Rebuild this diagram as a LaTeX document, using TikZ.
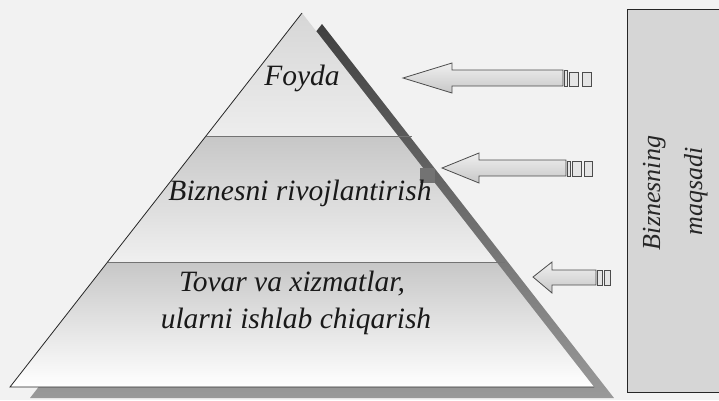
\documentclass[tikz,border=0pt]{standalone}
\usepackage{fontspec}
\setmainfont{Liberation Serif}
\begin{document}
\begin{tikzpicture}[x=1pt,y=-1pt,
  lbl/.style={font=\fontsize{29.5}{31}\selectfont\itshape, text=black!90, inner sep=0pt, anchor=base},
  boxlbl/.style={font=\fontsize{26}{28}\selectfont\itshape, text=black!85, inner sep=0pt, anchor=base, rotate=90},
  blockarrow/.style={draw=black!70, line width=0.8pt, top color=black!6, bottom color=black!22},
  tailbox/.style={draw=black!70, line width=0.8pt, fill=black!10},
  layerline/.style={draw=black!55, line width=0.9pt}
]
\useasboundingbox (0,0) rectangle (719,400);
\fill[black!5] (0,0) rectangle (719,400);

% coordinates of pyramid
\coordinate (A) at (302,13);
\coordinate (BL) at (10,387);
\coordinate (BR) at (594,387);
\coordinate (L1) at (205.6,136.5);
\coordinate (R1) at (398.4,136.5);
\coordinate (L2) at (107.6,262);
\coordinate (R2) at (496.4,262);

% shadow
\shade[top color=black!75, bottom color=black!40] (322,24) -- (30,398) -- (614,398) -- cycle;

% bands
\shade[top color=black!16, bottom color=black!7] (A) -- (L1) -- (R1) -- cycle;
\shade[top color=black!22, bottom color=black!6] (L1) -- (L2) -- (R2) -- (R1) -- cycle;
\shade[top color=black!22, bottom color=white] (L2) -- (BL) -- (BR) -- (R2) -- cycle;

% outlines
\draw[black!85, line width=0.8pt] (BR) -- (BL) -- (A);
\draw[layerline] (L1) -- (412,136.5);
\draw[layerline] (L2) -- (505,262);

% small dark square at arrow 2 tip
\fill[black!55] (420,168) rectangle (435,183);

% texts
\node[lbl] (foyda) at (302,85) {Foyda};
\node[lbl] (rivoj) at (300,200) {Biznesni rivojlantirish};
\node[lbl] (tovar) at (292,291) {Tovar va xizmatlar,};
\node[lbl] (ularni) at (296,328) {ularni ishlab chiqarish};

% block arrows
\draw[blockarrow] (403,78) -- (452,63) -- (452,70) -- (563,70) -- (563,86) -- (452,86) -- (452,93) -- cycle;
\draw[tailbox] (564,70) rectangle (567,86);
\draw[tailbox] (569,72) rectangle (578,86);
\draw[tailbox] (582,72) rectangle (591,86);

\draw[blockarrow] (442,168) -- (479,153) -- (479,160) -- (566,160) -- (566,176) -- (479,176) -- (479,183) -- cycle;
\draw[tailbox] (567,161) rectangle (570,176);
\draw[tailbox] (572,161) rectangle (581,176);
\draw[tailbox] (584,161) rectangle (592,176);

\draw[blockarrow] (533,277) -- (552,262) -- (552,270) -- (596,270) -- (596,285) -- (552,285) -- (552,293) -- cycle;
\draw[tailbox] (597,270) rectangle (602,285);
\draw[tailbox] (604,270) rectangle (610,285);

% goal box
\draw[black!85, line width=1pt, fill=black!16] (627,9.5) rectangle (725,392);
\node[boxlbl] (maq1) at (660,193) {Biznesning};
\node[boxlbl] (maq2) at (702,191) {maqsadi};
\end{tikzpicture}
\end{document}
